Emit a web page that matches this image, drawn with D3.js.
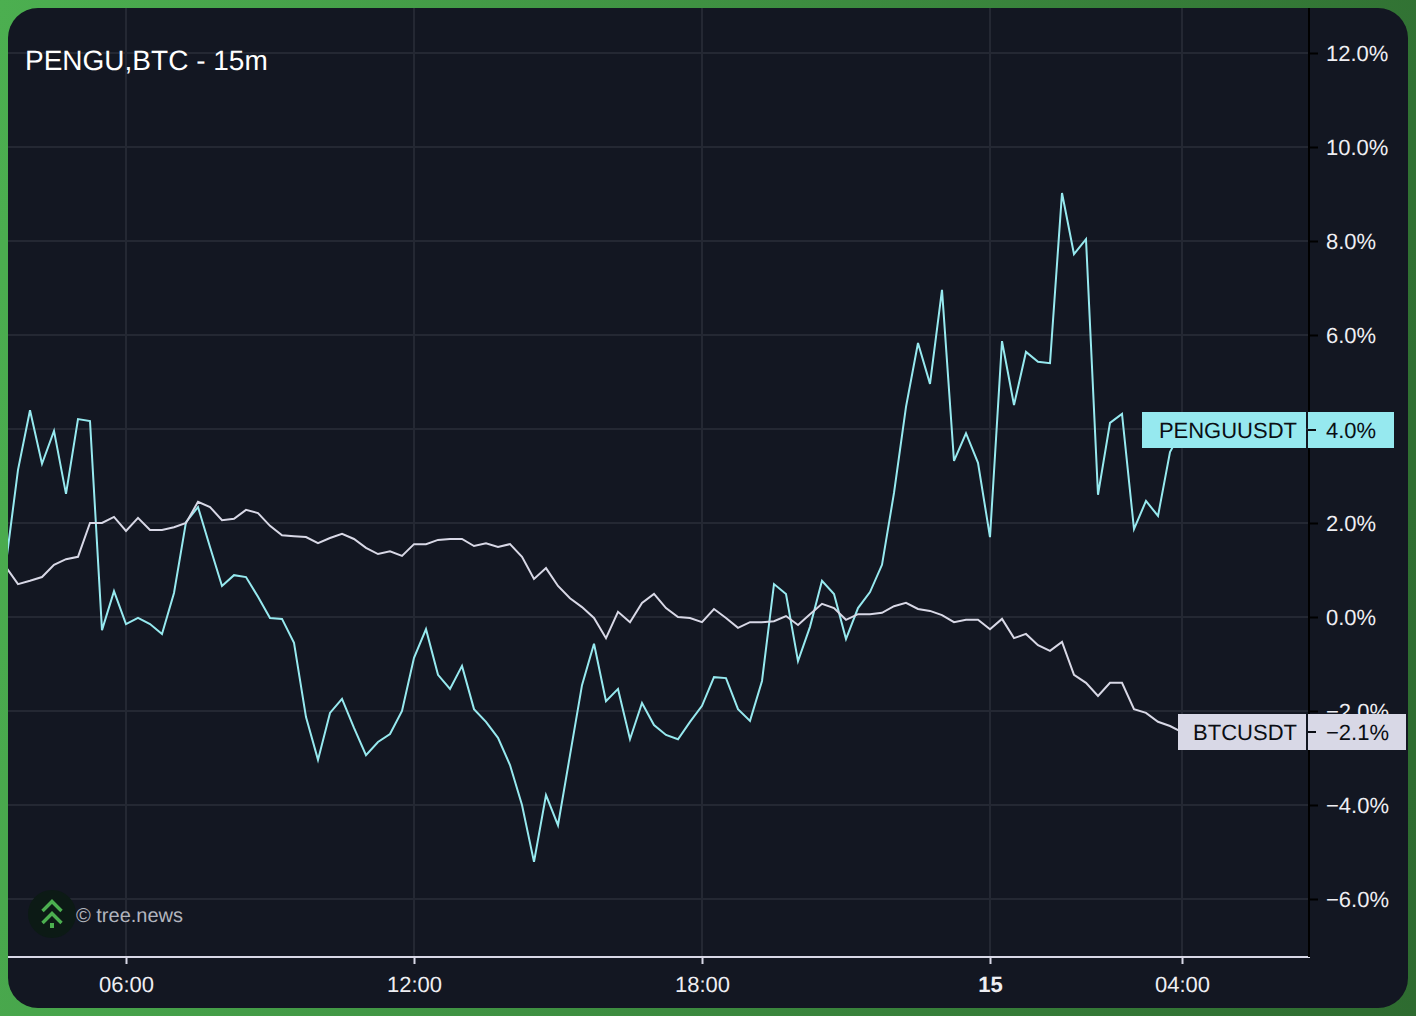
<!DOCTYPE html>
<html>
<head>
<meta charset="utf-8">
<script src="https://cdn.jsdelivr.net/npm/d3@7"></script>
<style>
  html, body { margin: 0; padding: 0; width: 1416px; height: 1016px; overflow: hidden; }
  body { background: linear-gradient(100deg, #4caf50 0%, #2e6b30 100%); }
  svg { display: block; font-family: "Liberation Sans", Arial, sans-serif; text-rendering: geometricPrecision; }
  .axis text { font-size: 22px; fill: #eeeef2; font-family: "Liberation Sans", Arial, sans-serif; }
</style>
</head>
<body>
<svg id="chart"></svg>
<script>
const pengu = [
  1.15, 3.13, 4.40, 3.26, 3.96, 2.62, 4.21, 4.17, -0.28, 0.55,
  -0.15, -0.02, -0.15, -0.36, 0.51, 2.02, 2.34, 1.49, 0.66, 0.89,
  0.85, 0.43, -0.02, -0.04, -0.55, -2.13, -3.04, -2.04, -1.74, -2.36,
  -2.94, -2.66, -2.49, -2.00, -0.87, -0.26, -1.23, -1.53, -1.04, -1.96,
  -2.23, -2.57, -3.15, -4.00, -5.21, -3.79, -4.43, -2.94, -1.45, -0.57,
  -1.79, -1.53, -2.60, -1.83, -2.30, -2.51, -2.60, -2.23, -1.89, -1.28,
  -1.30, -1.96, -2.21, -1.36, 0.70, 0.49, -0.94, -0.21, 0.77, 0.49,
  -0.47, 0.19, 0.53, 1.11, 2.64, 4.47, 5.83, 4.96, 6.96, 3.32,
  3.91, 3.28, 1.70, 5.87, 4.51, 5.64, 5.43, 5.40, 9.02, 7.72,
  8.04, 2.60, 4.13, 4.32, 1.87, 2.47, 2.15, 3.51, 3.98
];
const btc = [
  1.06, 0.70, 0.77, 0.85, 1.11, 1.23, 1.28, 2.00, 2.00, 2.13,
  1.83, 2.11, 1.85, 1.85, 1.91, 2.00, 2.45, 2.34, 2.06, 2.09,
  2.28, 2.21, 1.94, 1.74, 1.72, 1.70, 1.57, 1.68, 1.77, 1.66,
  1.47, 1.34, 1.40, 1.30, 1.55, 1.55, 1.64, 1.66, 1.66, 1.51,
  1.57, 1.49, 1.55, 1.28, 0.81, 1.04, 0.66, 0.40, 0.21, -0.02,
  -0.45, 0.11, -0.11, 0.30, 0.49, 0.19, 0.00, -0.02, -0.11, 0.17,
  -0.02, -0.23, -0.11, -0.11, -0.09, 0.02, -0.17, 0.06, 0.28, 0.19,
  -0.06, 0.06, 0.06, 0.09, 0.23, 0.30, 0.17, 0.13, 0.04, -0.11,
  -0.06, -0.06, -0.26, -0.04, -0.45, -0.36, -0.60, -0.72, -0.53, -1.23,
  -1.40, -1.68, -1.40, -1.40, -1.96, -2.04, -2.23, -2.32, -2.45
];
const yTicks = [12, 10, 8, 6, 4, 2, 0, -2, -4, -6];
const xTickTimes = ["2025-01-14T06:00", "2025-01-14T12:00", "2025-01-14T18:00", "2025-01-15T00:00", "2025-01-15T04:00"];
const xTickLabels = ["06:00", "12:00", "18:00", "15", "04:00"];
const seriesNames = ["PENGUUSDT", "BTCUSDT"];
const lastLabels = ["4.0%", "\u22122.1%"];

const SIZE = { width: 1416, height: 1016 };
const PANEL = { left: 8, top: 8, right: 1408, bottom: 1008, radius: 30 };
const AXIS_X = 1309;
const AXIS_Y = 957;
const GRID = "#242833";
const COLORS = { pengu: "#96e9ef", btc: "#d8d8e6" };

const start = new Date("2025-01-14T03:30");
const times = pengu.map((_, i) => d3.timeMinute.offset(start, i * 15));

const x = d3.scaleTime().domain([times[0], times[times.length - 1]]).range([6, 1182]);
const y = d3.scaleLinear().domain([0, 12]).range([617, 53]);

const svg = d3.select("#chart").attr("width", SIZE.width).attr("height", SIZE.height);

const defs = svg.append("defs");
defs.append("clipPath").attr("id", "plot-clip")
  .append("rect")
  .attr("x", PANEL.left).attr("y", PANEL.top)
  .attr("width", AXIS_X - PANEL.left).attr("height", AXIS_Y - PANEL.top);

svg.append("rect")
  .attr("x", PANEL.left).attr("y", PANEL.top)
  .attr("width", PANEL.right - PANEL.left).attr("height", PANEL.bottom - PANEL.top)
  .attr("rx", PANEL.radius).attr("ry", PANEL.radius)
  .attr("fill", "#131722");

// grid
const plot = svg.append("g").attr("clip-path", "url(#plot-clip)");
plot.append("g").selectAll("line").data(yTicks).join("line")
  .attr("x1", PANEL.left).attr("x2", AXIS_X)
  .attr("y1", d => y(d)).attr("y2", d => y(d))
  .attr("stroke", GRID).attr("stroke-width", 2);
plot.append("g").selectAll("line").data(xTickTimes).join("line")
  .attr("x1", d => x(new Date(d))).attr("x2", d => x(new Date(d)))
  .attr("y1", PANEL.top).attr("y2", AXIS_Y)
  .attr("stroke", GRID).attr("stroke-width", 2);

// watermark
const mark = svg.append("g");
mark.append("circle").attr("cx", 52).attr("cy", 914).attr("r", 24).attr("fill", "#0c1a15");
mark.append("path").attr("d", "M42.5 911 L52 901.5 L61.5 911 M42.5 923 L52 913.5 L61.5 923")
  .attr("fill", "none").attr("stroke", "#4caf50").attr("stroke-width", 3.4);
mark.append("rect").attr("x", 50).attr("y", 923).attr("width", 4).attr("height", 5).attr("fill", "#4caf50");
mark.append("text").attr("x", 76).attr("y", 922)
  .attr("font-size", 20).attr("fill", "#b2b5be").text("\u00a9 tree.news");

// series
const line = d3.line().x((_, i) => x(times[i])).y(d => y(d));
plot.append("path").attr("d", line(pengu))
  .attr("fill", "none").attr("stroke", COLORS.pengu).attr("stroke-width", 2);
plot.append("path").attr("d", line(btc))
  .attr("fill", "none").attr("stroke", COLORS.btc).attr("stroke-width", 2);

// axes
const xAxis = d3.axisBottom(x)
  .tickValues(xTickTimes.map(d => new Date(d)))
  .tickFormat((_, i) => xTickLabels[i])
  .tickSize(7).tickPadding(12).tickSizeOuter(0);
const xG = svg.append("g").attr("class", "axis x-axis")
  .attr("transform", `translate(0,${AXIS_Y})`).call(xAxis);
xG.select(".domain").remove();
xG.selectAll(".tick line").attr("stroke", "#d8d8e6").attr("stroke-width", 2);
xG.selectAll(".tick text").attr("font-weight", (_, i) => xTickLabels[i] === "15" ? "bold" : "normal");
svg.append("line")
  .attr("x1", PANEL.left).attr("x2", AXIS_X + 1)
  .attr("y1", AXIS_Y).attr("y2", AXIS_Y)
  .attr("stroke", "#d8d8e6").attr("stroke-width", 2);

const pct = d3.format(".1f");
const yAxis = d3.axisRight(y)
  .tickValues(yTicks)
  .tickFormat(d => `${pct(d)}%`)
  .tickSize(9).tickPadding(8).tickSizeOuter(0);
const yG = svg.append("g").attr("class", "axis y-axis")
  .attr("transform", `translate(${AXIS_X},0)`).call(yAxis);
yG.select(".domain").remove();
yG.selectAll(".tick line").attr("stroke", "#000").attr("stroke-width", 2);
svg.append("line")
  .attr("x1", AXIS_X).attr("x2", AXIS_X)
  .attr("y1", PANEL.top).attr("y2", AXIS_Y)
  .attr("stroke", "#000").attr("stroke-width", 2);

// last value labels
const lastRows = [
  { name: seriesNames[0], value: lastLabels[0], last: pengu[pengu.length - 1], color: COLORS.pengu, left: 1142, right: 1394 },
  { name: seriesNames[1], value: lastLabels[1], last: btc[btc.length - 1], color: COLORS.btc, left: 1178, right: 1406 }
];
lastRows.forEach(r => {
  const cy = Math.round(y(r.last));
  const g = svg.append("g").attr("class", "last-label");
  g.append("rect").attr("x", r.left).attr("y", cy - 18)
    .attr("width", 1306 - r.left).attr("height", 36).attr("fill", r.color);
  g.append("rect").attr("x", 1308).attr("y", cy - 18)
    .attr("width", r.right - 1308).attr("height", 36).attr("fill", r.color);
  g.append("line").attr("x1", 1308).attr("x2", 1316).attr("y1", cy).attr("y2", cy)
    .attr("stroke", "#0b0e14").attr("stroke-width", 2);
  g.append("text").attr("x", 1297).attr("y", cy + 8).attr("text-anchor", "end")
    .attr("font-size", 22).attr("fill", "#0b0e14").text(r.name);
  g.append("text").attr("x", 1326).attr("y", cy + 8)
    .attr("font-size", 22).attr("fill", "#0b0e14").text(r.value);
});

svg.append("text").attr("x", 25).attr("y", 70)
  .attr("font-size", 28).attr("fill", "#ffffff").text("PENGU,BTC - 15m");
</script>
</body>
</html>
